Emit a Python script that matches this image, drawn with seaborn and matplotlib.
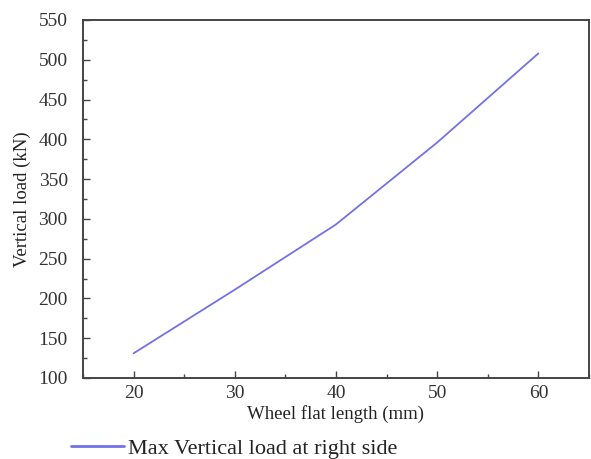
import matplotlib
matplotlib.use("Agg")
import matplotlib.pyplot as plt
from matplotlib.ticker import MultipleLocator
import pandas as pd
import seaborn as sns

flat_length_mm = [20, 30, 40, 50, 60]
max_vertical_load_kN = [131, 211, 293, 396, 508]
series_label = "Max Vertical load at right side"

sns.set_style("ticks")
plt.rcParams["font.family"] = ["Liberation Serif", "DejaVu Serif"]
plt.rcParams["mathtext.fontset"] = "stix"

df = pd.DataFrame({"Wheel flat length (mm)": flat_length_mm,
                   "Vertical load (kN)": max_vertical_load_kN,
                   "series": series_label})

fig = plt.figure(figsize=(5.91, 4.59), dpi=100)
ax = fig.add_axes([0.1404, 0.1765, 0.8562, 0.78])

line_color = "#7272e6"
sns.lineplot(data=df, x="Wheel flat length (mm)", y="Vertical load (kN)",
             hue="series", palette=[line_color], linewidth=1.3, ax=ax,
             legend=False)

ax.set_xlim(15, 65)
ax.set_ylim(100, 550)
ax.xaxis.set_major_locator(MultipleLocator(10))
ax.xaxis.set_minor_locator(MultipleLocator(5))
ax.yaxis.set_major_locator(MultipleLocator(50))
ax.yaxis.set_minor_locator(MultipleLocator(25))

edge = "#444444"
for s in ax.spines.values():
    s.set_color(edge)
    s.set_linewidth(1.4)
    s.set_visible(True)
ax.tick_params(which="both", direction="in", color=edge, width=1.0,
               labelsize=14, labelcolor="#333333",
               top=False, right=False)
ax.tick_params(which="major", length=5)
ax.tick_params(axis="x", which="major", pad=5)
ax.tick_params(axis="y", which="major", pad=11)
ax.tick_params(which="minor", length=3)

ax.set_xlabel("Wheel flat length (mm)", fontsize=13.5, color="#222222", labelpad=2)
ax.set_ylabel("Vertical load (kN)", fontsize=13.5, color="#222222", labelpad=5)

handle = plt.Line2D([], [], color=line_color, linewidth=2.0)
fig.legend([handle], [series_label], loc="center left",
           bbox_to_anchor=(0.105, 0.022), frameon=False, fontsize=16,
           handlelength=2.4, handletextpad=0.15, borderaxespad=0,
           labelcolor="#222222")

fig.savefig("out.png", dpi=100)
